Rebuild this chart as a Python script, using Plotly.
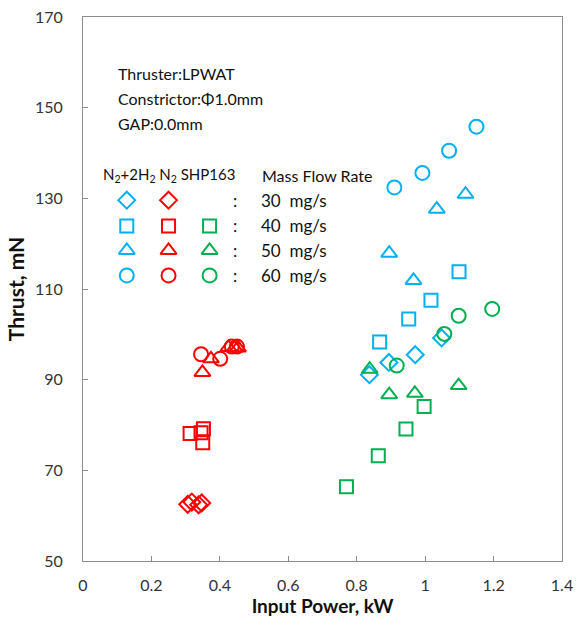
import plotly.graph_objects as go

# ---- data (Input Power kW, Thrust mN) ----
blue_diamond_x = [0.837, 0.894, 0.971, 1.048]
blue_diamond_y = [91.1, 93.8, 95.5, 99.2]
blue_square_x = [0.867, 0.952, 1.017, 1.099]
blue_square_y = [98.3, 103.4, 107.5, 113.8]
blue_triangle_x = [0.895, 0.966, 1.034, 1.118]
blue_triangle_y = [117.9, 111.9, 127.6, 130.9]
blue_circle_x = [0.910, 0.992, 1.070, 1.150]
blue_circle_y = [132.4, 135.6, 140.5, 145.8]

red_diamond_x = [0.306, 0.318, 0.338, 0.347]
red_diamond_y = [62.5, 63.0, 62.4, 62.8]
red_square_x = [0.313, 0.345, 0.352, 0.350]
red_square_y = [78.1, 78.3, 79.2, 76.1]
red_triangle_x = [0.349, 0.374, 0.425, 0.443, 0.453]
red_triangle_y = [91.6, 94.6, 97.1, 97.0, 97.0]
red_circle_x = [0.345, 0.401, 0.435, 0.450]
red_circle_y = [95.6, 94.6, 97.3, 97.3]

green_square_x = [0.770, 0.863, 0.944, 0.997]
green_square_y = [66.4, 73.2, 79.1, 84.1]
green_triangle_x = [0.838, 0.895, 0.970, 1.098]
green_triangle_y = [92.3, 86.7, 87.0, 88.7]
green_circle_x = [0.917, 1.056, 1.098, 1.196]
green_circle_y = [93.1, 100.1, 104.1, 105.6]

# legend key layout (in data units)
key_col_x = {"blue": 0.128, "red": 0.250, "green": 0.370}
key_row_y = {"diamond": 129.6, "square": 123.9, "triangle": 118.5, "circle": 113.0}
flow_labels = ["30\u00a0\u00a0mg/s", "40\u00a0\u00a0mg/s", "50\u00a0\u00a0mg/s", "60\u00a0\u00a0mg/s"]

x_ticks = [0, 0.2, 0.4, 0.6, 0.8, 1.0, 1.2, 1.4]
x_tick_text = ["0", "0.2", "0.4", "0.6", "0.8", "1", "1.2", "1.4"]
y_ticks = [50, 70, 90, 110, 130, 150, 170]

colors = {"blue": "#00B0F0", "red": "#FF0000", "green": "#00B050"}
symbols = {"diamond": "diamond-open", "square": "square-open",
           "triangle": "triangle-up-open", "circle": "circle-open"}
sizes = {"diamond": 13, "square": 13, "triangle": 14, "circle": 14}

fig = go.Figure()

def add(xs, ys, col, shp):
    fig.add_trace(go.Scatter(
        x=xs, y=ys, mode="markers", showlegend=False, hoverinfo="skip",
        marker=dict(symbol=symbols[shp], size=sizes[shp], color=colors[col],
                    line=dict(width=2, color=colors[col]))))

add(blue_diamond_x, blue_diamond_y, "blue", "diamond")
add(blue_square_x, blue_square_y, "blue", "square")
add(blue_triangle_x, blue_triangle_y, "blue", "triangle")
add(blue_circle_x, blue_circle_y, "blue", "circle")
add(red_diamond_x, red_diamond_y, "red", "diamond")
add(red_square_x, red_square_y, "red", "square")
add(red_triangle_x, red_triangle_y, "red", "triangle")
add(red_circle_x, red_circle_y, "red", "circle")
add(green_square_x, green_square_y, "green", "square")
add(green_triangle_x, green_triangle_y, "green", "triangle")
add(green_circle_x, green_circle_y, "green", "circle")

# legend keys
key_set = [("blue", ["diamond", "square", "triangle", "circle"]),
           ("red", ["diamond", "square", "triangle", "circle"]),
           ("green", ["square", "triangle", "circle"])]
for col, shapes in key_set:
    for shp in shapes:
        add([key_col_x[col]], [key_row_y[shp]], col, shp)

font = "Lato, 'Open Sans', sans-serif"
anns = []
def txt(x, y, s, size=16):
    anns.append(dict(x=x, y=y, xref="x", yref="y", text=s, showarrow=False,
                     xanchor="left", yanchor="middle",
                     font=dict(family=font, size=size, color="#111")))

txt(0.095, 157.5, "Thruster:LPWAT")
txt(0.095, 152.0, "Constrictor:Φ1.0mm")
txt(0.095, 146.6, "GAP:0.0mm")
txt(0.053, 135.1, "N<sub>2</sub>+2H<sub>2</sub> N<sub>2</sub> SHP163", 15)
txt(0.518, 135.1, "Mass Flow Rate", 16)
for shp, lab in zip(["diamond", "square", "triangle", "circle"], flow_labels):
    txt(0.432, key_row_y[shp], ":", 17)
    txt(0.515, key_row_y[shp], lab, 17)

fig.update_layout(
    width=577, height=633,
    margin=dict(l=83, r=15, t=17, b=72),
    paper_bgcolor="white", plot_bgcolor="white",
    annotations=anns,
    xaxis=dict(range=[0, 1.4], tickvals=x_ticks, ticktext=x_tick_text,
               automargin=False,
               showgrid=False, zeroline=False, showline=True, mirror=True,
               linecolor="#8C8C8C", linewidth=1, ticks="inside", ticklen=5,
               tickcolor="#8C8C8C", ticklabelstandoff=10,
               tickfont=dict(family=font, size=16, color="#333"),
               title=dict(text="<b>Input Power, kW</b>", standoff=6,
                          font=dict(family=font, size=19, color="#111"))),
    yaxis=dict(range=[50, 170], tickvals=y_ticks,
               automargin=False,
               showgrid=False, zeroline=False, showline=True, mirror=True,
               linecolor="#8C8C8C", linewidth=1, ticks="inside", ticklen=5,
               tickcolor="#8C8C8C", ticklabelstandoff=16,
               tickfont=dict(family=font, size=16, color="#333"),
               title=dict(text="<b>Thrust, mN</b>", standoff=4,
                          font=dict(family=font, size=21, color="#111"))),
)

fig.write_html("out.html")
